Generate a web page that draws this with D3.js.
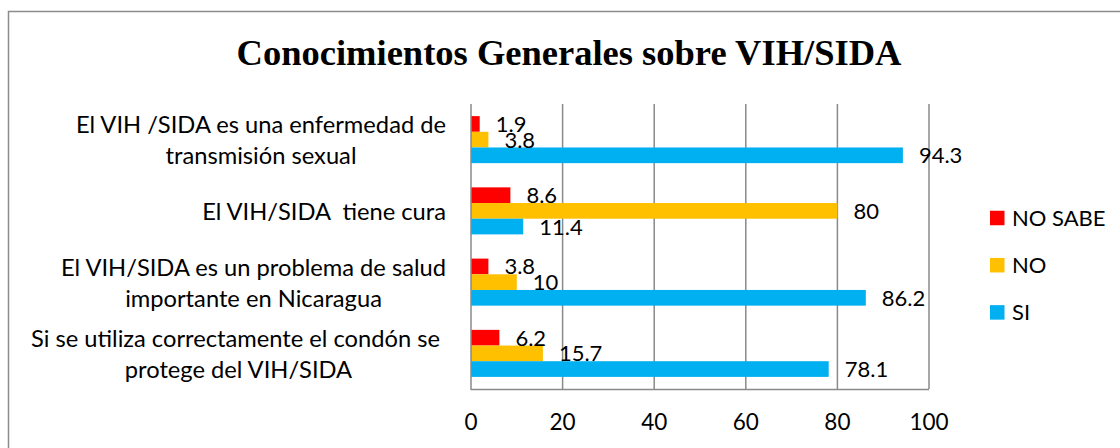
<!DOCTYPE html>
<html>
<head>
<meta charset="utf-8">
<script src="https://cdn.jsdelivr.net/npm/d3@7"></script>
<style>
  html, body { margin: 0; padding: 0; background: #fff; }
  svg { display: block; }
  text { font-family: Lato, "Open Sans", sans-serif; fill: #000; }
</style>
</head>
<body>
<svg id="chart" width="1120" height="448"></svg>
<script>
const title = "Conocimientos Generales sobre VIH/SIDA";
const categoryLines = [
  ["El VIH /SIDA es una enfermedad de", "transmisión sexual"],
  ["El VIH/SIDA  tiene cura"],
  ["El VIH/SIDA es un problema de salud", "importante en Nicaragua"],
  ["Si se utiliza correctamente el condón se ", "protege del VIH/SIDA"]
];
const categories = categoryLines.map(l => l.join(" "));
const seriesNames = ["NO SABE", "NO", "SI"];
const seriesColors = ["#FF0000", "#FFC000", "#00B0F0"];
const noSabe = [1.9, 8.6, 3.8, 6.2];
const no = [3.8, 80, 10, 15.7];
const si = [94.3, 11.4, 86.2, 78.1];
const tickValues = [0, 20, 40, 60, 80, 100];

const seriesValues = [noSabe, no, si];

const svg = d3.select("#chart");

// chart border
svg.append("rect")
  .attr("x", 8.5).attr("y", 11.5)
  .attr("width", 1130).attr("height", 460)
  .attr("fill", "none").attr("stroke", "#8c8c8c").attr("stroke-width", 1.5);

// title
svg.append("text")
  .attr("x", 569).attr("y", 65)
  .attr("text-anchor", "middle")
  .style("font-family", "'Liberation Serif', 'Times New Roman', serif")
  .style("font-weight", "bold")
  .style("font-size", "36.5px")
  .text(title);

const x = d3.scaleLinear().domain([0, 100]).range([471, 929]);
const y = d3.scaleBand().domain(categories).range([104, 389])
  .paddingInner(0.34).paddingOuter(0.17);
const ySub = d3.scaleBand().domain(seriesNames).range([0, y.bandwidth()]);

// gridlines
svg.append("g").selectAll("line")
  .data(tickValues.filter(t => t > 0))
  .join("line")
  .attr("x1", d => x(d)).attr("x2", d => x(d))
  .attr("y1", 104).attr("y2", 389)
  .attr("stroke", "#8a8a8a").attr("stroke-width", 1.5);

// bars
const groups = svg.append("g").selectAll("g")
  .data(categories)
  .join("g")
  .attr("transform", d => `translate(0,${y(d)})`);

seriesNames.forEach((s, si_) => {
  groups.append("rect")
    .attr("x", x(0))
    .attr("y", ySub(s))
    .attr("width", (d, i) => x(seriesValues[si_][i]) - x(0))
    .attr("height", ySub.bandwidth())
    .attr("fill", seriesColors[si_]);
});

// value labels
seriesNames.forEach((s, si_) => {
  groups.append("text")
    .attr("x", (d, i) => x(seriesValues[si_][i]) + 16)
    .attr("y", ySub(s) + ySub.bandwidth() / 2 + 8)
    .style("font-size", "22px")
    .text((d, i) => String(seriesValues[si_][i]));
});

// axes lines
svg.append("line")
  .attr("x1", x(0)).attr("x2", x(0)).attr("y1", 104).attr("y2", 390)
  .attr("stroke", "#8a8a8a").attr("stroke-width", 1.5);
svg.append("line")
  .attr("x1", x(0)).attr("x2", x(100)).attr("y1", 389.5).attr("y2", 389.5)
  .attr("stroke", "#8a8a8a").attr("stroke-width", 1.5);

// x tick labels
svg.append("g").selectAll("text")
  .data(tickValues)
  .join("text")
  .attr("x", d => x(d))
  .attr("y", 430)
  .attr("text-anchor", "middle")
  .style("font-size", "22.5px")
  .text(d => d);

// category labels
const rightEdge = 446;
const lineH = 31;
categoryLines.forEach((lines, ci) => {
  const c = y(categories[ci]) + y.bandwidth() / 2;
  const g = svg.append("g");
  const texts = g.selectAll("text").data(lines).join("text")
    .style("font-size", "23.7px")
    .style("white-space", "pre")
    .attr("text-anchor", "middle")
    .attr("y", (d, i) => c + (i - (lines.length - 1) / 2) * lineH + 9)
    .text(d => d);
  let maxW = 0;
  texts.each(function () { maxW = Math.max(maxW, this.getComputedTextLength()); });
  texts.attr("x", rightEdge - maxW / 2);
});

// legend
const legend = svg.append("g").selectAll("g")
  .data(seriesNames)
  .join("g")
  .attr("transform", (d, i) => `translate(990,${218 + i * 47.2})`);
legend.append("rect")
  .attr("x", 0).attr("y", -7.25)
  .attr("width", 14.5).attr("height", 14.5)
  .attr("fill", (d, i) => seriesColors[i]);
legend.append("text")
  .attr("x", 22).attr("y", 8)
  .style("font-size", "22px")
  .text(d => d);
</script>
</body>
</html>
